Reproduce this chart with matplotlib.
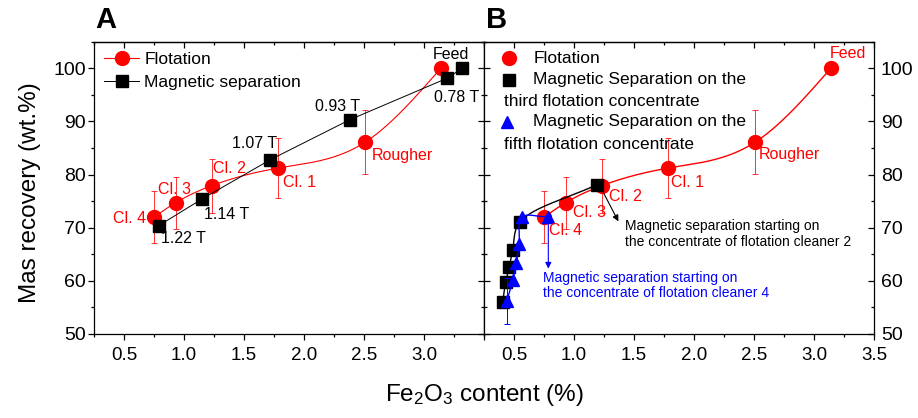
import numpy as np
import matplotlib
matplotlib.use("Agg")
import matplotlib.pyplot as plt
from matplotlib.ticker import MultipleLocator, FuncFormatter

plt.rcParams['font.family'] = ['Liberation Sans', 'DejaVu Sans']
plt.rcParams['mathtext.fontset'] = 'custom'
plt.rcParams['mathtext.rm'] = 'Liberation Sans'
plt.rcParams['mathtext.it'] = 'Liberation Sans:italic'
plt.rcParams['mathtext.bf'] = 'Liberation Sans:bold'

# ---------------- data ----------------
flot_x = [0.75, 0.93, 1.23, 1.78, 2.51, 3.14]
flot_y = [72.0, 74.7, 77.9, 81.2, 86.1, 100.0]
flot_err = [4.9, 4.9, 5.1, 5.7, 6.0, 0.0]
flot_labels = ["Cl. 4", "Cl. 3", "Cl. 2", "Cl. 1", "Rougher", "Feed"]

magA_x = [0.79, 1.15, 1.72, 2.38, 3.19, 3.32]
magA_y = [70.4, 75.4, 82.8, 90.3, 98.1, 100.0]
magA_labels = ["1.22 T", "1.14 T", "1.07 T", "0.93 T", "0.78 T", ""]

magB3_x = [1.19, 0.55, 0.489, 0.461, 0.431, 0.406]
magB3_y = [78.1, 71.1, 65.8, 62.6, 59.8, 56.1]

magB5_x = [0.786, 0.564, 0.544, 0.517, 0.489, 0.44]
magB5_y = [72.0, 72.0, 67.0, 63.3, 60.1, 56.2]
magB5_err = [0, 0, 0, 0, 0, 4.3]

RED = '#ff0000'
BLUE = '#0000ff'

# ---------------- figure ----------------
W, H = 918, 418
fig = plt.figure(figsize=(W / 100, H / 100), dpi=100)
ax_l, ax_r, ax_t, ax_b = 94, 484, 41.7, 334
axA = fig.add_axes([ax_l / W, 1 - ax_b / H, (ax_r - ax_l) / W, (ax_b - ax_t) / H])
axB = fig.add_axes([ax_r / W, 1 - ax_b / H, (874 - ax_r) / W, (ax_b - ax_t) / H])

for ax in (axA, axB):
    ax.set_xlim(0.25, 3.5)
    ax.set_ylim(50, 105)
    ax.xaxis.set_major_locator(MultipleLocator(0.5))
    ax.xaxis.set_minor_locator(MultipleLocator(0.25))
    ax.yaxis.set_major_locator(MultipleLocator(10))
    ax.yaxis.set_minor_locator(MultipleLocator(5))
    for s in ax.spines.values():
        s.set_linewidth(0.9)
    ax.tick_params(axis='x', which='both', direction='out', top=False,
                   labelsize=13.5, pad=5, width=0.9)
    ax.tick_params(axis='x', which='major', length=4)
    ax.tick_params(axis='x', which='minor', length=2.5)
    sec = ax.secondary_xaxis('top')
    sec.xaxis.set_major_locator(MultipleLocator(0.5))
    sec.xaxis.set_minor_locator(MultipleLocator(0.25))
    sec.tick_params(which='both', direction='in', labeltop=False, width=0.9)
    sec.tick_params(which='major', length=4)
    sec.tick_params(which='minor', length=2.5)
    sec.spines['top'].set_linewidth(0.9)

# panel A shows no "3.5" label (shared border with B)
axA.xaxis.set_major_formatter(FuncFormatter(lambda v, p: '' if v > 3.25 else f'{v:.1f}'))

axA.tick_params(axis='y', which='both', direction='out', right=False,
                labelsize=14, pad=2, width=0.9)
axA.tick_params(axis='y', which='major', length=4)
axA.tick_params(axis='y', which='minor', length=2.5)
secy = axA.secondary_yaxis('right')
secy.yaxis.set_major_locator(MultipleLocator(10))
secy.yaxis.set_minor_locator(MultipleLocator(5))
secy.tick_params(which='both', direction='in', labelright=False, width=0.9)
secy.tick_params(which='major', length=4)
secy.tick_params(which='minor', length=2.5)

axB.tick_params(axis='y', which='both', direction='in', left=True, right=True,
                labelleft=False, labelright=True, labelsize=14, pad=5, width=0.9)
axB.tick_params(axis='y', which='major', length=4)
axB.tick_params(axis='y', which='minor', length=2.5)


def natural_spline(xs, ys, n=300):
    x = np.asarray(xs, float)
    y = np.asarray(ys, float)
    o = np.argsort(x)
    x, y = x[o], y[o]
    m = len(x)
    h = np.diff(x)
    A = np.zeros((m, m))
    r = np.zeros(m)
    A[0, 0] = A[-1, -1] = 1.0
    for i in range(1, m - 1):
        A[i, i - 1] = h[i - 1]
        A[i, i] = 2 * (h[i - 1] + h[i])
        A[i, i + 1] = h[i]
        r[i] = 3 * ((y[i + 1] - y[i]) / h[i] - (y[i] - y[i - 1]) / h[i - 1])
    c = np.linalg.solve(A, r)
    xx = np.linspace(x[0], x[-1], n)
    k = np.clip(np.searchsorted(x, xx) - 1, 0, m - 2)
    b = (y[1:] - y[:-1]) / h - h * (2 * c[:-1] + c[1:]) / 3
    d = (c[1:] - c[:-1]) / (3 * h)
    t = xx - x[k]
    yy = y[k] + b[k] * t + c[k] * t ** 2 + d[k] * t ** 3
    return xx, yy


def smooth(ax, xs, ys, n=40):
    pts = ax.transData.transform(np.column_stack([xs, ys]))
    P = np.vstack([2 * pts[0] - pts[1], pts, 2 * pts[-1] - pts[-2]])
    out = []
    for i in range(1, len(P) - 2):
        p0, p1, p2, p3 = P[i - 1], P[i], P[i + 1], P[i + 2]
        t0 = 0.0
        t1 = t0 + np.linalg.norm(p1 - p0) ** 0.5 + 1e-9
        t2 = t1 + np.linalg.norm(p2 - p1) ** 0.5 + 1e-9
        t3 = t2 + np.linalg.norm(p3 - p2) ** 0.5 + 1e-9
        t = np.linspace(t1, t2, n)[:, None]
        A1 = (t1 - t) / (t1 - t0) * p0 + (t - t0) / (t1 - t0) * p1
        A2 = (t2 - t) / (t2 - t1) * p1 + (t - t1) / (t2 - t1) * p2
        A3 = (t3 - t) / (t3 - t2) * p2 + (t - t2) / (t3 - t2) * p3
        B1 = (t2 - t) / (t2 - t0) * A1 + (t - t0) / (t2 - t0) * A2
        B2 = (t3 - t) / (t3 - t1) * A2 + (t - t1) / (t3 - t1) * A3
        C = (t2 - t) / (t2 - t1) * B1 + (t - t1) / (t2 - t1) * B2
        out.append(C)
    out = np.vstack(out)
    d = ax.transData.inverted().transform(out)
    return d[:, 0], d[:, 1]


# ---------------- Panel A ----------------
sx, sy = natural_spline(flot_x, flot_y)
axA.plot(sx, sy, color=RED, lw=0.8, zorder=2)
axA.errorbar(flot_x, flot_y, yerr=flot_err, fmt='none', ecolor=RED, elinewidth=0.7,
             capsize=2.5, capthick=0.7, zorder=2, alpha=0.8)
axA.plot(flot_x, flot_y, 'o', color=RED, ms=10, zorder=3)
axA.plot(magA_x, magA_y, '-', color='black', lw=0.7, zorder=4)
axA.plot(magA_x, magA_y, 's', color='black', ms=8, zorder=5)

# legend A (proxy handles)
hA1, = axA.plot([], [], '-o', color=RED, lw=0.8, ms=10)
hA2, = axA.plot([], [], '-s', color='black', lw=0.7, ms=8)
axA.legend([hA1, hA2], ["Flotation", "Magnetic separation"], loc='upper left',
           frameon=False, fontsize=12.5, handlelength=2.0, handletextpad=0.3,
           borderaxespad=0.3, borderpad=0.3, labelspacing=0.45, numpoints=1)

flotA_off = [(-8, -1, 'right'), (-18, 13, 'left'), (1, 17, 'left'),
             (5, -14, 'left'), (7, -13, 'left')]
for i, (dx, dy, ha) in enumerate(flotA_off):
    axA.annotate(flot_labels[i], (flot_x[i], flot_y[i]), xytext=(dx, dy),
                 textcoords='offset pixels', color=RED, fontsize=11.5,
                 ha=ha, va='center')
axA.annotate(flot_labels[5], (flot_x[5], flot_y[5]), xytext=(10, 14),
             textcoords='offset pixels', color='black', fontsize=11.5,
             ha='center', va='center')

magA_off = [(2, -13, 'left'), (2, -15, 'left'), (-16, 16, 'center'),
            (-12, 13, 'center'), (10, -19, 'center')]
for i, (dx, dy, ha) in enumerate(magA_off):
    axA.annotate(magA_labels[i], (magA_x[i], magA_y[i]), xytext=(dx, dy),
                 textcoords='offset pixels', color='black', fontsize=11.5,
                 ha=ha, va='center')

# ---------------- Panel B ----------------
sx, sy = natural_spline(flot_x, flot_y)
axB.plot(sx, sy, color=RED, lw=1.0, zorder=2)
axB.errorbar(flot_x, flot_y, yerr=flot_err, fmt='none', ecolor=RED, elinewidth=0.7,
             capsize=2.5, capthick=0.7, zorder=2, alpha=0.8)
axB.plot(flot_x, flot_y, 'o', color=RED, ms=10, zorder=3)

bx, by = smooth(axB, magB3_x, magB3_y)
axB.plot(bx, by, color='black', lw=1.0, zorder=4)
axB.plot(magB3_x, magB3_y, 's', color='black', ms=8, zorder=5)

tx, ty = smooth(axB, magB5_x, magB5_y)
axB.plot(tx, ty, color=BLUE, lw=1.0, zorder=6)
axB.errorbar(magB5_x, magB5_y, yerr=magB5_err, fmt='none', ecolor=BLUE,
             elinewidth=0.7, capsize=2.5, capthick=0.7, zorder=6)
axB.plot(magB5_x, magB5_y, '^', color=BLUE, ms=8, zorder=7)

flotB_off = [(5, -13), (7, -10), (7, -11), (3, -14), (4, -12)]
for i, (dx, dy) in enumerate(flotB_off):
    axB.annotate(flot_labels[i], (flot_x[i], flot_y[i]), xytext=(dx, dy),
                 textcoords='offset pixels', color=RED, fontsize=11.5,
                 ha='left', va='center', zorder=8)
axB.annotate(flot_labels[5], (flot_x[5], flot_y[5]), xytext=(17, 15),
             textcoords='offset pixels', color=RED, fontsize=11.5,
             ha='center', va='center')

# arrows + notes
axB.annotate('', xy=(1.37, 71.2), xytext=(1.245, 76.6),
             arrowprops=dict(arrowstyle='-|>', color='black', lw=0.8,
                             mutation_scale=9, shrinkA=0, shrinkB=0))
axB.text(1.425, 68.8, "Magnetic separation starting on\nthe concentrate of flotation cleaner 2",
         fontsize=10, color='black', ha='left', va='center', linespacing=1.15)
axB.annotate('', xy=(0.786, 62.3), xytext=(0.786, 70.9),
             arrowprops=dict(arrowstyle='-|>', color=BLUE, lw=0.8,
                             mutation_scale=9, shrinkA=0, shrinkB=0))
axB.text(0.744, 59.15, "Magnetic separation starting on\nthe concentrate of flotation cleaner 4",
         fontsize=10, color=BLUE, ha='left', va='center', linespacing=1.15)

# legend B (manual layout)
tr = axB.transAxes
axB.plot([0.0649], [0.943], 'o', color=RED, ms=10, transform=tr, clip_on=False)
axB.plot([0.0649], [0.869], 's', color='black', ms=8, transform=tr, clip_on=False)
axB.plot([0.0582], [0.726], '^', color=BLUE, ms=9, transform=tr, clip_on=False)
leg_fs = 12.5
axB.text(0.1264, 0.943, "Flotation", transform=tr, fontsize=leg_fs, va='center')
axB.text(0.1264, 0.869, "Magnetic Separation on the", transform=tr, fontsize=leg_fs, va='center')
axB.text(0.0513, 0.795, "third flotation concentrate", transform=tr, fontsize=leg_fs, va='center')
axB.text(0.1264, 0.726, "Magnetic Separation on the", transform=tr, fontsize=leg_fs, va='center')
axB.text(0.0513, 0.649, "fifth flotation concentrate", transform=tr, fontsize=leg_fs, va='center')

# panel letters & axis labels
fig.text(95 / W, 1 - 20 / H, "A", fontsize=21, fontweight='bold', ha='left', va='center')
fig.text(486 / W, 1 - 20 / H, "B", fontsize=21, fontweight='bold', ha='left', va='center')
fig.text(30 / W, 1 - 193 / H, "Mas recovery (wt.%)", fontsize=17.5, rotation=90,
         ha='center', va='center')
fig.text(484 / W, 1 - 395 / H, "Fe$_2$O$_3$ content (%)", fontsize=17.5,
         ha='center', va='center')

fig.savefig("out.png", dpi=100)
